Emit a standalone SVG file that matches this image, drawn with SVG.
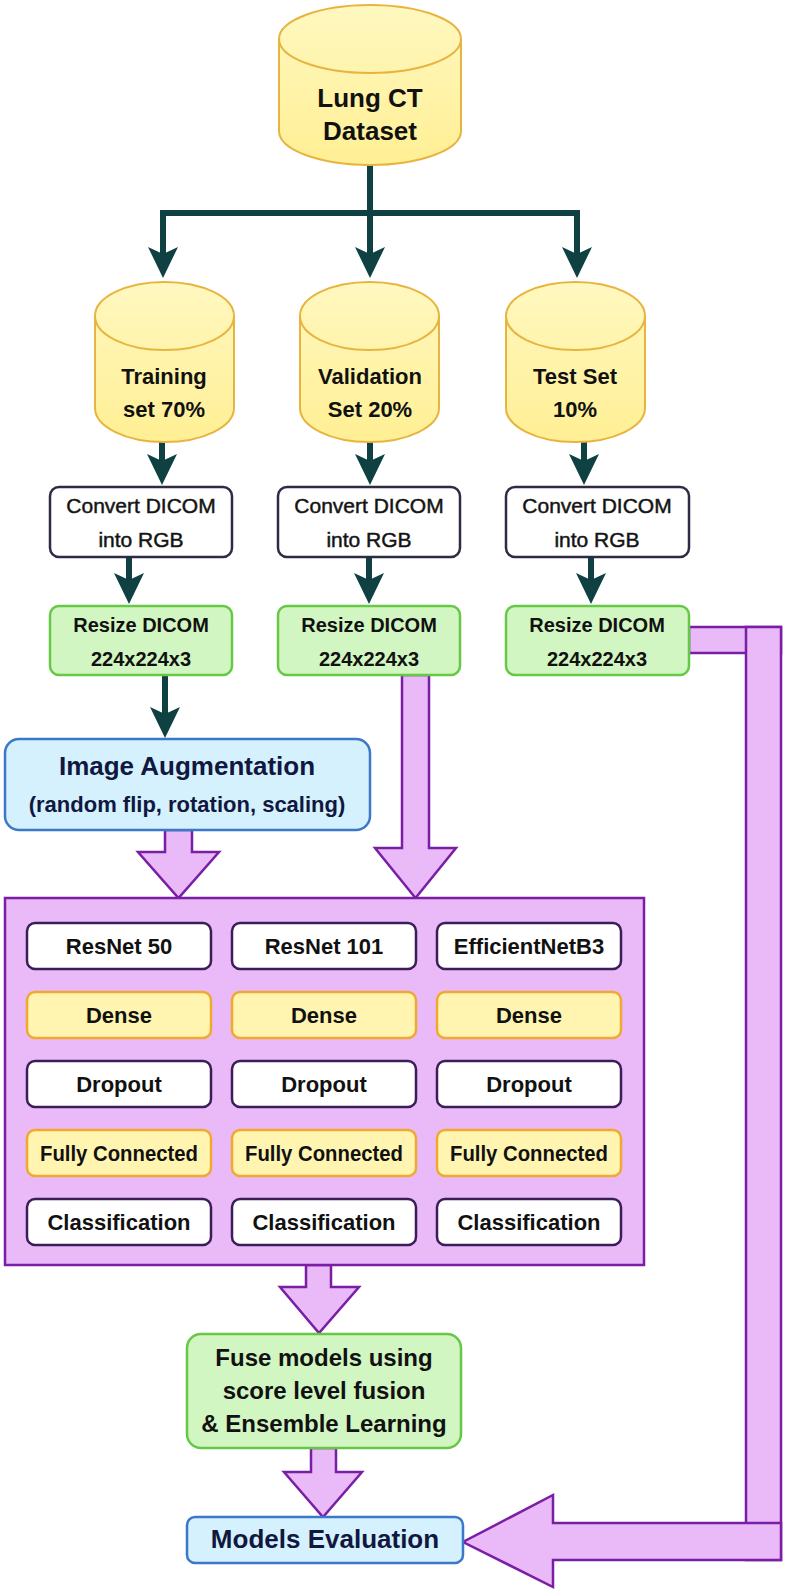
<svg xmlns="http://www.w3.org/2000/svg" width="786" height="1595" viewBox="0 0 786 1595">
<defs>
<marker id="ah" markerUnits="userSpaceOnUse" markerWidth="33" markerHeight="32" viewBox="-22 -16 33 32" refX="0" refY="0" orient="auto">
<path d="M10,0 L-21,-15 L-14,0 L-21,15 Z" fill="#0f4143"/>
</marker>
<linearGradient id="cyl" x1="0" y1="0" x2="0" y2="1">
<stop offset="0" stop-color="#fff8c0"/>
<stop offset="1" stop-color="#ffef94"/>
</linearGradient>
</defs>
<style>
text{font-family:"Liberation Sans",Arial,sans-serif;text-anchor:middle;fill:#111}
.b{font-weight:bold}
.m{stroke:#222;stroke-width:0.5}
.cyl{fill:url(#cyl);stroke:#e8b440;stroke-width:2}
.cap{fill:none;stroke:#e8b440;stroke-width:2}
.conv{fill:#fff;stroke:#2d2b45;stroke-width:2.5}
.green{fill:#d2f6c2;stroke:#66c845;stroke-width:2.5}
.blue{fill:#d5f1fd;stroke:#3b78c8;stroke-width:2.5}
.yel{fill:#fff5b0;stroke:#f0a830;stroke-width:2.5}
.wht{fill:#fff;stroke:#3b1d5a;stroke-width:2.5}
.vio{fill:#e9baf7;stroke:#7a1fa5;stroke-width:2.5;stroke-linejoin:miter}
.ln{fill:none;stroke:#0f4143;stroke-width:6}
.arr{fill:none;stroke:#0f4143;stroke-width:6;marker-end:url(#ah)}
.navy{fill:#101840}
</style>
<rect width="786" height="1595" fill="#fff"/>

<g id="connectors">
<path class="ln" d="M370,163 V213"/>
<path class="ln" d="M160,213 H580"/>
<path class="arr" d="M163,213 V268"/>
<path class="arr" d="M370,213 V268"/>
<path class="arr" d="M577,213 V268"/>
<path class="arr" d="M162,442 V475"/>
<path class="arr" d="M370,442 V475"/>
<path class="arr" d="M584,442 V475"/>
<path class="arr" d="M129,557 V594"/>
<path class="arr" d="M369,557 V594"/>
<path class="arr" d="M591,557 V594"/>
<path class="arr" d="M165,675 V728"/>
<path class="vio" d="M165,830 H192 V852 H219 L178.5,898 L138,852 H165 Z"/>
<path class="vio" d="M402,675 H429 V848 H456 L415.5,898 L375,848 H402 Z"/>
<path class="vio" d="M306,1265 H331 V1287 H359 L319,1333 L280,1287 H306 Z"/>
<path class="vio" d="M311,1448 H336 V1472 H362 L323,1517 L284,1472 H311 Z"/>
<rect class="vio" x="689" y="627" width="92" height="26"/>
<rect class="vio" x="746" y="627" width="35" height="933"/>
<path class="vio" d="M781,1523 V1560 H553 V1587 L463,1542 L553,1495 V1523 Z"/>
</g>

<g id="lung-ct-dataset">
<path class="cyl" d="M279,39 A91,34 0 0 1 461,39 L461,131 A91,34 0 0 1 279,131 Z"/>
<path class="cap" d="M279,39 A91,34 0 0 0 461,39"/>
<text class="b" x="370" y="107" font-size="26">Lung CT</text>
<text class="b" x="370" y="140" font-size="26">Dataset</text>
</g>

<g id="training-set">
<path class="cyl" d="M95,316 A69.5,34 0 0 1 234,316 L234,408 A69.5,34 0 0 1 95,408 Z"/>
<path class="cap" d="M95,316 A69.5,34 0 0 0 234,316"/>
<text class="b" x="164" y="384" font-size="22">Training</text>
<text class="b" x="164" y="417" font-size="22">set 70%</text>
</g>
<g id="validation-set">
<path class="cyl" d="M300,316 A69.5,34 0 0 1 439,316 L439,408 A69.5,34 0 0 1 300,408 Z"/>
<path class="cap" d="M300,316 A69.5,34 0 0 0 439,316"/>
<text class="b" x="370" y="384" font-size="22">Validation</text>
<text class="b" x="370" y="417" font-size="22">Set 20%</text>
</g>
<g id="test-set">
<path class="cyl" d="M506,316 A69.5,34 0 0 1 645,316 L645,408 A69.5,34 0 0 1 506,408 Z"/>
<path class="cap" d="M506,316 A69.5,34 0 0 0 645,316"/>
<text class="b" x="575" y="384" font-size="22">Test Set</text>
<text class="b" x="575" y="417" font-size="22">10%</text>
</g>

<g id="convert-train">
<rect class="conv" x="50" y="487" width="182" height="70" rx="9"/>
<text class="m" x="141" y="513" font-size="21">Convert DICOM</text>
<text class="m" x="141" y="547" font-size="21">into RGB</text>
</g>
<g id="convert-val">
<rect class="conv" x="278" y="487" width="182" height="70" rx="9"/>
<text class="m" x="369" y="513" font-size="21">Convert DICOM</text>
<text class="m" x="369" y="547" font-size="21">into RGB</text>
</g>
<g id="convert-test">
<rect class="conv" x="506" y="487" width="183" height="70" rx="9"/>
<text class="m" x="597" y="513" font-size="21">Convert DICOM</text>
<text class="m" x="597" y="547" font-size="21">into RGB</text>
</g>

<g id="resize-train">
<rect class="green" x="50" y="606" width="182" height="69" rx="9"/>
<text class="b" x="141" y="632" font-size="20">Resize DICOM</text>
<text class="b" x="141" y="666" font-size="20">224x224x3</text>
</g>
<g id="resize-val">
<rect class="green" x="278" y="606" width="182" height="69" rx="9"/>
<text class="b" x="369" y="632" font-size="20">Resize DICOM</text>
<text class="b" x="369" y="666" font-size="20">224x224x3</text>
</g>
<g id="resize-test">
<rect class="green" x="506" y="606" width="183" height="69" rx="9"/>
<text class="b" x="597" y="632" font-size="20">Resize DICOM</text>
<text class="b" x="597" y="666" font-size="20">224x224x3</text>
</g>

<g id="image-augmentation">
<rect class="blue" x="5" y="739" width="365" height="91" rx="14"/>
<text class="b navy" x="187" y="775" font-size="26">Image Augmentation</text>
<text class="b navy" x="187" y="812" font-size="22">(random flip, rotation, scaling)</text>
</g>

<g id="models-container">
<rect class="vio" x="5" y="898" width="639" height="367"/>
</g>

<g id="resnet50">
<rect class="wht" x="27" y="923" width="184" height="46" rx="8"/>
<text class="b" x="119" y="954" font-size="22">ResNet 50</text>
</g>
<g id="resnet101">
<rect class="wht" x="232" y="923" width="184" height="46" rx="8"/>
<text class="b" x="324" y="954" font-size="22">ResNet 101</text>
</g>
<g id="efficientnetb3">
<rect class="wht" x="437" y="923" width="184" height="46" rx="8"/>
<text class="b" x="529" y="954" font-size="22">EfficientNetB3</text>
</g>

<g id="dense-1">
<rect class="yel" x="27" y="992" width="184" height="46" rx="8"/>
<text class="b" x="119" y="1023" font-size="22">Dense</text>
</g>
<g id="dense-2">
<rect class="yel" x="232" y="992" width="184" height="46" rx="8"/>
<text class="b" x="324" y="1023" font-size="22">Dense</text>
</g>
<g id="dense-3">
<rect class="yel" x="437" y="992" width="184" height="46" rx="8"/>
<text class="b" x="529" y="1023" font-size="22">Dense</text>
</g>

<g id="dropout-1">
<rect class="wht" x="27" y="1061" width="184" height="46" rx="8"/>
<text class="b" x="119" y="1092" font-size="22">Dropout</text>
</g>
<g id="dropout-2">
<rect class="wht" x="232" y="1061" width="184" height="46" rx="8"/>
<text class="b" x="324" y="1092" font-size="22">Dropout</text>
</g>
<g id="dropout-3">
<rect class="wht" x="437" y="1061" width="184" height="46" rx="8"/>
<text class="b" x="529" y="1092" font-size="22">Dropout</text>
</g>

<g id="fc-1">
<rect class="yel" x="27" y="1130" width="184" height="46" rx="8"/>
<text class="b" x="119" y="1161" font-size="22" textLength="158" lengthAdjust="spacingAndGlyphs">Fully Connected</text>
</g>
<g id="fc-2">
<rect class="yel" x="232" y="1130" width="184" height="46" rx="8"/>
<text class="b" x="324" y="1161" font-size="22" textLength="158" lengthAdjust="spacingAndGlyphs">Fully Connected</text>
</g>
<g id="fc-3">
<rect class="yel" x="437" y="1130" width="184" height="46" rx="8"/>
<text class="b" x="529" y="1161" font-size="22" textLength="158" lengthAdjust="spacingAndGlyphs">Fully Connected</text>
</g>

<g id="classification-1">
<rect class="wht" x="27" y="1199" width="184" height="46" rx="8"/>
<text class="b" x="119" y="1230" font-size="22">Classification</text>
</g>
<g id="classification-2">
<rect class="wht" x="232" y="1199" width="184" height="46" rx="8"/>
<text class="b" x="324" y="1230" font-size="22">Classification</text>
</g>
<g id="classification-3">
<rect class="wht" x="437" y="1199" width="184" height="46" rx="8"/>
<text class="b" x="529" y="1230" font-size="22">Classification</text>
</g>

<g id="fuse-models">
<rect class="green" x="187" y="1334" width="274" height="114" rx="14"/>
<text class="b" x="324" y="1366" font-size="24">Fuse models using</text>
<text class="b" x="324" y="1399" font-size="24">score level fusion</text>
<text class="b" x="324" y="1432" font-size="24">&amp; Ensemble Learning</text>
</g>

<g id="models-evaluation">
<rect class="blue" x="187" y="1517" width="276" height="46" rx="8"/>
<text class="b navy" x="325" y="1548" font-size="26">Models Evaluation</text>
</g>
</svg>
